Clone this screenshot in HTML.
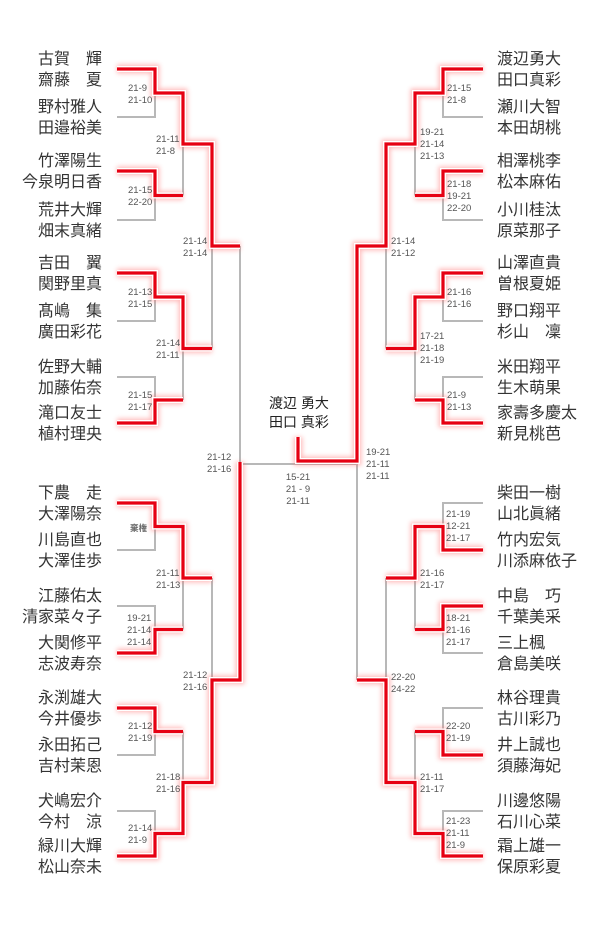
<!DOCTYPE html>
<html><head><meta charset="utf-8"><style>
html,body{margin:0;padding:0;background:#fff;}
svg{display:block;}
.n{font-family:"Liberation Sans","Noto Sans CJK JP",sans-serif;font-size:16px;fill:#333;}
.s{font-family:"Liberation Sans","Noto Sans CJK JP",sans-serif;font-size:9.5px;fill:#555;}
.c{font-family:"Liberation Sans","Noto Sans CJK JP",sans-serif;font-size:14px;fill:#222;}
</style></head><body>
<svg width="600" height="931" viewBox="0 0 600 931" xmlns="http://www.w3.org/2000/svg">
<defs>
<filter id="bl" x="-20%" y="-20%" width="140%" height="140%"><feGaussianBlur stdDeviation="2.5"/></filter>
<g id="r" fill="none">
<path d="M117,69 H155 V93 H183 V144 H212 V246 H240"/>
<path d="M117,171 H155 V195.5 H183"/>
<path d="M117,273 H155 V297 H183 V348.5 H212"/>
<path d="M117,423 H155 V400 H183"/>
<path d="M117,503 H155 V526.5 H183 V578 H212"/>
<path d="M117,653 H155 V629.5 H183"/>
<path d="M117,708 H155 V731.5 H183"/>
<path d="M117,856 H155 V833.5 H183 V782.5 H212 V680 H240 V462"/>
<path d="M483,69 H443 V93 H415 V144 H386 V246 H357 V461 H298 V437"/>
<path d="M483,171 H443 V195.5 H415"/>
<path d="M483,273 H443 V297 H415 V348.5 H386"/>
<path d="M483,423 H443 V400 H415"/>
<path d="M483,550 H443 V526.5 H415 V578 H386"/>
<path d="M483,606 H443 V629.5 H415"/>
<path d="M483,755 H443 V731.5 H415"/>
<path d="M483,856 H443 V833.5 H415 V782.5 H386 V680 H357"/>
</g>
</defs>
<!-- grey bracket -->
<g fill="none" stroke="#b8b8b8" stroke-width="2">
<path d="M117,69 H155 V117 H117 M155,93 H183 M117,171 H155 V220 H117 M155,195.5 H183 M117,273 H155 V321 H117 M155,297 H183 M117,377 H155 V423 H117 M155,400 H183
M117,503 H155 V550 H117 M155,526.5 H183 M117,606 H155 V653 H117 M155,629.5 H183 M117,708 H155 V755 H117 M155,731.5 H183 M117,811 H155 V856 H117 M155,833.5 H183
M183,93 V195.5 M183,144 H212 M183,297 V400 M183,348.5 H212 M183,526.5 V629.5 M183,578 H212 M183,731.5 V833.5 M183,782.5 H212
M212,144 V348.5 M212,246 H240 M212,578 V782.5 M212,680 H240 M240,246 V680 M240,464 H357"/>
<path d="M483,69 H443 V117 H483 M443,93 H415 M483,171 H443 V220 H483 M443,195.5 H415 M483,273 H443 V321 H483 M443,297 H415 M483,377 H443 V423 H483 M443,400 H415
M483,503 H443 V550 H483 M443,526.5 H415 M483,606 H443 V653 H483 M443,629.5 H415 M483,708 H443 V755 H483 M443,731.5 H415 M483,811 H443 V856 H483 M443,833.5 H415
M415,93 V195.5 M415,144 H386 M415,297 V400 M415,348.5 H386 M415,526.5 V629.5 M415,578 H386 M415,731.5 V833.5 M415,782.5 H386
M386,144 V348.5 M386,246 H357 M386,578 V782.5 M386,680 H357 M357,246 V680"/>
</g>
<!-- red winners with glow -->
<use href="#r" stroke="#ff6b6b" stroke-width="9" opacity="0.45" filter="url(#bl)"/>
<use href="#r" stroke="#fff" stroke-width="6"/>
<use href="#r" stroke="#e60012" stroke-width="3.2"/>

<!-- left names -->
<g class="n" text-anchor="end">
<text x="102" y="64">古賀　輝</text><text x="102" y="85">齋藤　夏</text>
<text x="102" y="112">野村雅人</text><text x="102" y="133">田邉裕美</text>
<text x="102" y="166">竹澤陽生</text><text x="102" y="187">今泉明日香</text>
<text x="102" y="215">荒井大輝</text><text x="102" y="236">畑末真緒</text>
<text x="102" y="268">吉田　翼</text><text x="102" y="289">関野里真</text>
<text x="102" y="316">髙嶋　集</text><text x="102" y="337">廣田彩花</text>
<text x="102" y="372">佐野大輔</text><text x="102" y="393">加藤佑奈</text>
<text x="102" y="418">滝口友士</text><text x="102" y="439">植村理央</text>
<text x="102" y="498">下農　走</text><text x="102" y="519">大澤陽奈</text>
<text x="102" y="545">川島直也</text><text x="102" y="566">大澤佳歩</text>
<text x="102" y="601">江藤佑太</text><text x="102" y="622">清家菜々子</text>
<text x="102" y="648">大関修平</text><text x="102" y="669">志波寿奈</text>
<text x="102" y="703">永渕雄大</text><text x="102" y="724">今井優歩</text>
<text x="102" y="750">永田拓己</text><text x="102" y="771">吉村茉恩</text>
<text x="102" y="806">犬嶋宏介</text><text x="102" y="827">今村　涼</text>
<text x="102" y="851">緑川大輝</text><text x="102" y="872">松山奈未</text>
</g>
<!-- right names -->
<g class="n">
<text x="497" y="64">渡辺勇大</text><text x="497" y="85">田口真彩</text>
<text x="497" y="112">瀬川大智</text><text x="497" y="133">本田胡桃</text>
<text x="497" y="166">相澤桃李</text><text x="497" y="187">松本麻佑</text>
<text x="497" y="215">小川桂汰</text><text x="497" y="236">原菜那子</text>
<text x="497" y="268">山澤直貴</text><text x="497" y="289">曽根夏姫</text>
<text x="497" y="316">野口翔平</text><text x="497" y="337">杉山　凜</text>
<text x="497" y="372">米田翔平</text><text x="497" y="393">生木萌果</text>
<text x="497" y="418">家壽多慶太</text><text x="497" y="439">新見桃芭</text>
<text x="497" y="498">柴田一樹</text><text x="497" y="519">山北眞緒</text>
<text x="497" y="545">竹内宏気</text><text x="497" y="566">川添麻依子</text>
<text x="497" y="601">中島　巧</text><text x="497" y="622">千葉美采</text>
<text x="497" y="648">三上楓</text><text x="497" y="669">倉島美咲</text>
<text x="497" y="703">林谷理貴</text><text x="497" y="724">古川彩乃</text>
<text x="497" y="750">井上誠也</text><text x="497" y="771">須藤海妃</text>
<text x="497" y="806">川邊悠陽</text><text x="497" y="827">石川心菜</text>
<text x="497" y="851">霜上雄一</text><text x="497" y="872">保原彩夏</text>
</g>

<!-- scores -->
<g class="s">
<!-- left R1 -->
<text x="128" y="91">21-9</text><text x="128" y="103">21-10</text>
<text x="128" y="193">21-15</text><text x="128" y="205">22-20</text>
<text x="128" y="295">21-13</text><text x="128" y="307">21-15</text>
<text x="128" y="398">21-15</text><text x="128" y="410">21-17</text>
<text x="130" y="531" font-size="8.5" font-weight="bold" fill="#666">棄権</text>
<text x="127" y="621">19-21</text><text x="127" y="633">21-14</text><text x="127" y="645">21-14</text>
<text x="128" y="729">21-12</text><text x="128" y="741">21-19</text>
<text x="128" y="831">21-14</text><text x="128" y="843">21-9</text>
<!-- left R2 -->
<text x="156" y="142">21-11</text><text x="156" y="154">21-8</text>
<text x="156" y="346">21-14</text><text x="156" y="358">21-11</text>
<text x="156" y="576">21-11</text><text x="156" y="588">21-13</text>
<text x="156" y="780">21-18</text><text x="156" y="792">21-16</text>
<!-- left R3 -->
<text x="183" y="244">21-14</text><text x="183" y="256">21-14</text>
<text x="183" y="678">21-12</text><text x="183" y="690">21-16</text>
<!-- left R4 -->
<text x="207" y="460">21-12</text><text x="207" y="472">21-16</text>
<!-- right R1 -->
<text x="447" y="91">21-15</text><text x="447" y="103">21-8</text>
<text x="447" y="187">21-18</text><text x="447" y="199">19-21</text><text x="447" y="211">22-20</text>
<text x="447" y="295">21-16</text><text x="447" y="307">21-16</text>
<text x="447" y="398">21-9</text><text x="447" y="410">21-13</text>
<text x="446" y="517">21-19</text><text x="446" y="529">12-21</text><text x="446" y="541">21-17</text>
<text x="446" y="621">18-21</text><text x="446" y="633">21-16</text><text x="446" y="645">21-17</text>
<text x="446" y="729">22-20</text><text x="446" y="741">21-19</text>
<text x="446" y="824">21-23</text><text x="446" y="836">21-11</text><text x="446" y="848">21-9</text>
<!-- right R2 -->
<text x="420" y="135">19-21</text><text x="420" y="147">21-14</text><text x="420" y="159">21-13</text>
<text x="420" y="339">17-21</text><text x="420" y="351">21-18</text><text x="420" y="363">21-19</text>
<text x="420" y="576">21-16</text><text x="420" y="588">21-17</text>
<text x="420" y="780">21-11</text><text x="420" y="792">21-17</text>
<!-- right R3 -->
<text x="391" y="244">21-14</text><text x="391" y="256">21-12</text>
<text x="391" y="680">22-20</text><text x="391" y="692">24-22</text>
<!-- final right -->
<text x="366" y="455">19-21</text><text x="366" y="467">21-11</text><text x="366" y="479">21-11</text>
<!-- final centre -->
<g text-anchor="middle"><text x="298" y="480">15-21</text><text x="298" y="492">21 - 9</text><text x="298" y="504">21-11</text></g>
</g>

<!-- champion -->
<g class="c" text-anchor="middle">
<text x="299" y="408">渡辺 勇大</text>
<text x="299" y="427">田口 真彩</text>
</g>
</svg>
</body></html>
